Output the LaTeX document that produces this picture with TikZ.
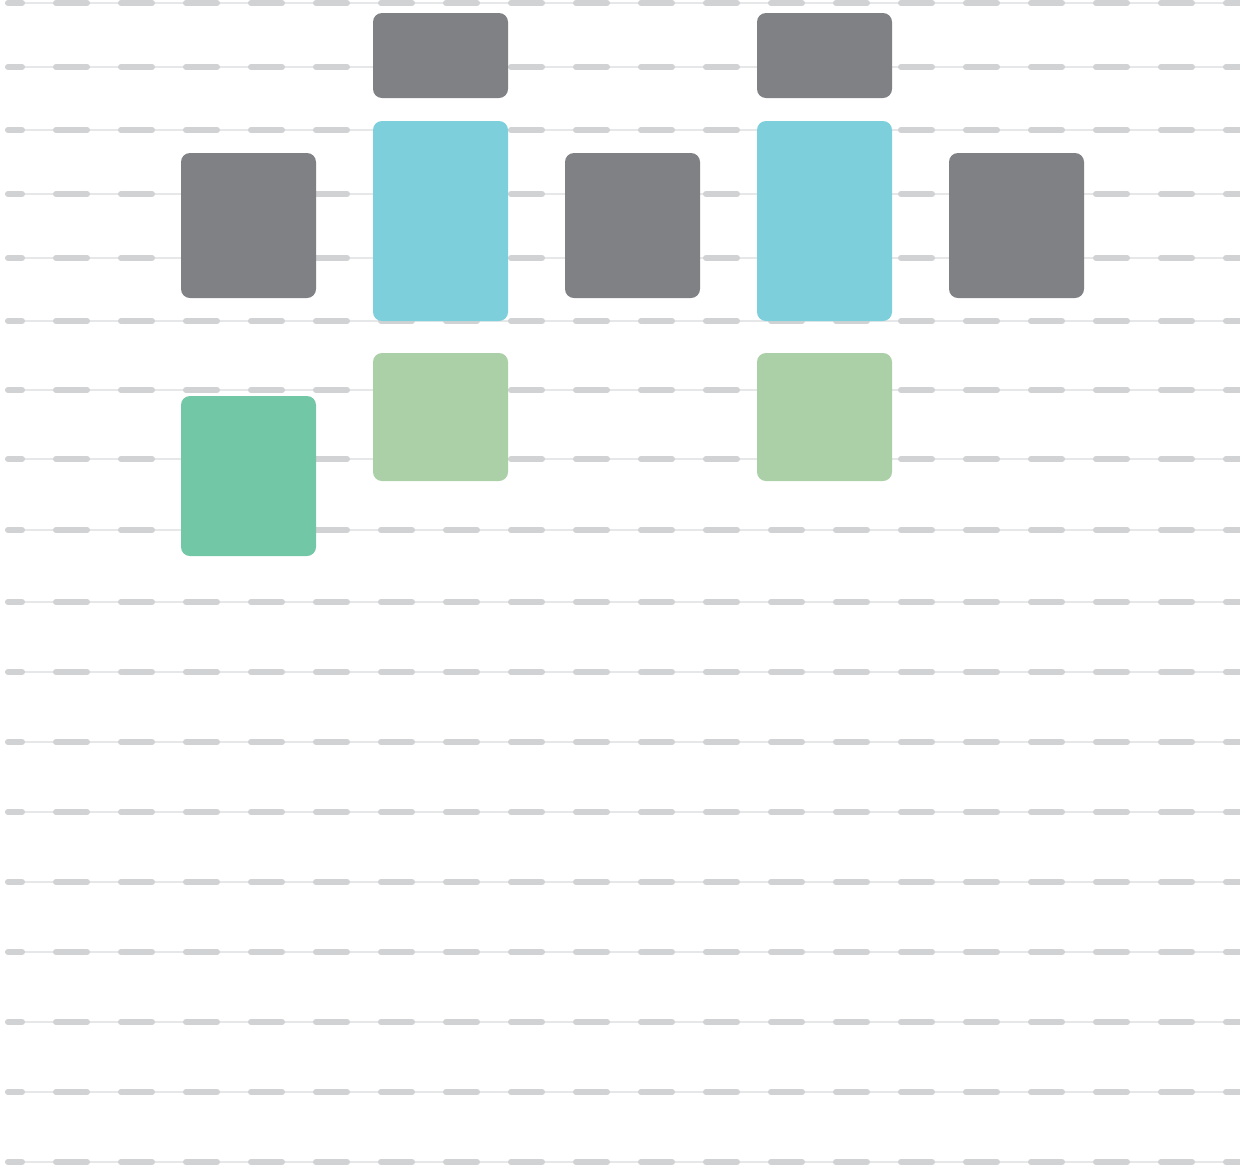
\documentclass[tikz,border=0pt]{standalone}
\definecolor{dashgray}{HTML}{D1D2D4}
\definecolor{thingray}{HTML}{E6E7E8}
\definecolor{boxgray}{HTML}{808184}
\definecolor{boxcyan}{HTML}{7DD0DB}
\definecolor{boxlgreen}{HTML}{ABD0A8}
\definecolor{boxteal}{HTML}{72C7A7}
\tikzset{
  thinline/.style={draw=thingray, line width=1.3pt},
  dashseg/.style={draw=dashgray, line width=6pt, line cap=round},
  blk/.style={rectangle, rounded corners=9pt, inner sep=0pt, draw=none, minimum width=135pt},
}
\begin{document}
\begin{tikzpicture}[x=1pt,y=-1pt]
\useasboundingbox (0,0) rectangle (1240,1168);
\clip (0,0) rectangle (1240,1168);
\fill[white] (0,0) rectangle (1240,1168);
\foreach \y in {3,67,130,194,258,321,390,459,530,602,672,742,812,882,952,1022,1092,1162} {
  \draw[thinline] (5,\y) -- (1240,\y);
  \draw[dashseg] (8,\y) -- (22,\y);
  \foreach \k in {0,...,18} {
    \draw[dashseg] (56+65*\k,\y) -- (87+65*\k,\y);
  }
}
\node[blk, fill=boxgray, minimum height=85pt] (g1) at (440.5,55.5) {};
\node[blk, fill=boxgray, minimum height=85pt] (g2) at (824.5,55.5) {};
\node[blk, fill=boxcyan, minimum height=200pt] (c1) at (440.5,221) {};
\node[blk, fill=boxcyan, minimum height=200pt] (c2) at (824.5,221) {};
\node[blk, fill=boxgray, minimum height=145pt] (m1) at (248.5,225.5) {};
\node[blk, fill=boxgray, minimum height=145pt] (m2) at (632.5,225.5) {};
\node[blk, fill=boxgray, minimum height=145pt] (m3) at (1016.5,225.5) {};
\node[blk, fill=boxlgreen, minimum height=128pt] (l1) at (440.5,417) {};
\node[blk, fill=boxlgreen, minimum height=128pt] (l2) at (824.5,417) {};
\node[blk, fill=boxteal, minimum height=160pt] (t1) at (248.5,476) {};
\end{tikzpicture}
\end{document}
